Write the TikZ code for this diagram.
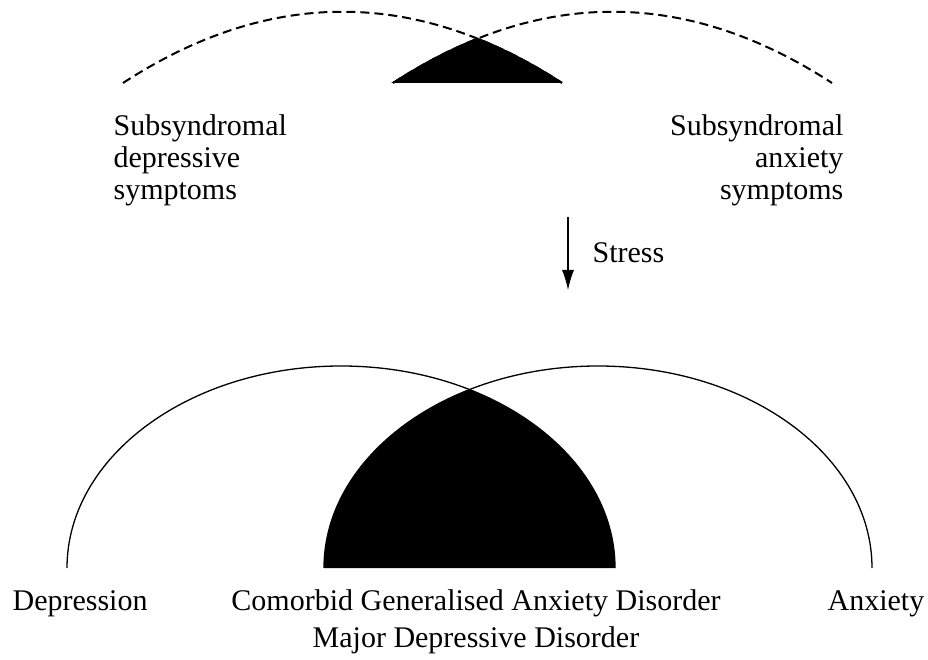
\documentclass[tikz,border=0pt]{standalone}
\usepackage{fontspec}
\setmainfont{Liberation Serif}
\usetikzlibrary{arrows.meta, positioning}

\begin{document}
\begin{tikzpicture}[x=1pt, y=1pt, line width=1.2pt,
        lbl/.style={inner sep=0pt, font=\fontsize{30}{32}\selectfont},
        subarc/.style={line width=2pt, dash pattern=on 9pt off 5pt},
        fullarc/.style={line width=1.3pt}]
        \useasboundingbox (0,0) rectangle (928,659);

        % Overlap of the subsyndromal arcs
        \begin{scope}
            \clip (123,576) .. controls (269,671) and (416,671) .. (562,576) -- cycle;
            \filldraw[line width=2pt] (393,576) .. controls (539,671) and (686,671) .. (832,576) -- cycle;
        \end{scope}
        \begin{scope}
            \clip (393,576) .. controls (539,671) and (686,671) .. (832,576) -- cycle;
            \draw[line width=2pt] (123,576) .. controls (269,671) and (416,671) .. (562,576);
        \end{scope}

        % Subsyndromal arcs
        \draw[subarc] (123,576) .. controls (269,671) and (416,671) .. (562,576);
        \draw[subarc] (393,576) .. controls (539,671) and (686,671) .. (832,576);

        % Subsyndromal labels
        \node[lbl, anchor=base west, align=left] (subdep) at (113,459)
            {Subsyndromal\\depressive\\symptoms};
        \node[lbl, anchor=base east, align=right] (subanx) at (844,459)
            {Subsyndromal\\anxiety\\symptoms};

        % Stress
        \coordinate (stresstop) at (568,442);
        \coordinate (stressend) at (568,369);
        \draw[line width=1.1pt, -{Latex[length=20pt, width=12pt]}] (stresstop) -- (stressend);
        \node[lbl, anchor=base west] (stress) at (592,396) {Stress};

        % Overlap of the disorder arcs (comorbidity)
        \begin{scope}
            \clip (67,91) arc[start angle=180, end angle=0, x radius=274, y radius=202] -- cycle;
            \fill (324,91) arc[start angle=180, end angle=0, x radius=274, y radius=202] -- cycle;
        \end{scope}

        % Disorder arcs
        \draw[fullarc] (67,91) arc[start angle=180, end angle=0, x radius=274, y radius=202];
        \draw[fullarc] (324,91) arc[start angle=180, end angle=0, x radius=274, y radius=202];

        % Disorder labels
        \node[lbl, anchor=base west] (dep) at (12,49) {Depression};
        \node[lbl, anchor=base, align=center, font=\fontsize{30}{37}\selectfont] (comorb) at (476,12)
            {Comorbid Generalised Anxiety Disorder\\Major Depressive Disorder};
        \node[lbl, anchor=base west] (anx) at (827,49) {Anxiety};

    \end{tikzpicture}
\end{document}
